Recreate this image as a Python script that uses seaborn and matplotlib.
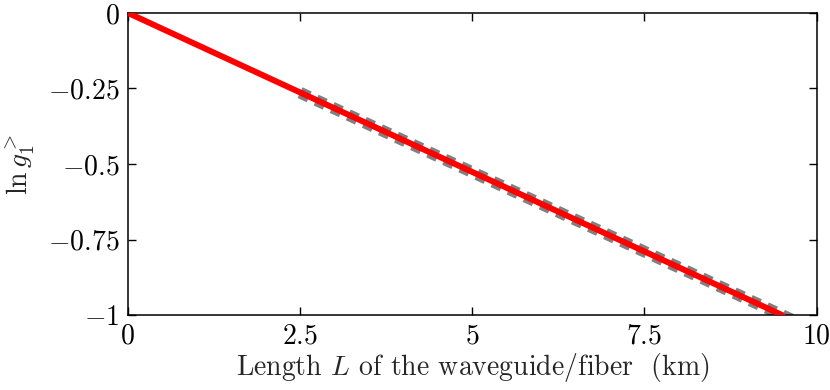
import numpy as np
import pandas as pd
import matplotlib
matplotlib.use("Agg")
import matplotlib.pyplot as plt
import seaborn as sns

# red curve (model) and gray dashed fit
red_L = [0.0, 9.5]
red_lng = [0.0, -1.0]
fit_L = [2.5, 9.65]
fit_lng = [-0.264, -1.016]

x_ticks = [0, 2.5, 5, 7.5, 10]
x_labels = ["0", "2.5", "5", "7.5", "10"]
y_ticks = [0, -0.25, -0.5, -0.75, -1]
y_labels = ["0", "-0.25", "-0.5", "-0.75", "-1"]

sns.set_style("ticks")
plt.rcParams["mathtext.fontset"] = "cm"
plt.rcParams["font.family"] = ["cmr10", "DejaVu Serif"]
plt.rcParams["axes.formatter.use_mathtext"] = True

fig = plt.figure(figsize=(8.3, 3.9), dpi=100)
ax = fig.add_axes([0.154, 0.192, 0.830, 0.775])

fit_df = pd.DataFrame({"L": fit_L, "lng": fit_lng})
red_df = pd.DataFrame({"L": red_L, "lng": red_lng})

sns.lineplot(data=fit_df, x="L", y="lng", ax=ax, color="#808080",
             linewidth=8.5, zorder=2)
ax.lines[-1].set_dashes([0.85, 0.65])
sns.lineplot(data=red_df, x="L", y="lng", ax=ax, color="red",
             linewidth=4.3, zorder=3)

ax.set_xlim(0, 10)
ax.set_ylim(-1, 0)
ax.set_xticks(x_ticks)
ax.set_xticklabels(["$" + s + "$" for s in x_labels])
ax.set_yticks(y_ticks)
ax.set_yticklabels(["$" + s + "$" for s in y_labels])

ax.tick_params(direction="in", top=True, right=True, length=6, width=1,
               labelsize=20, pad=6, colors="black")
for sp in ax.spines.values():
    sp.set_linewidth(1.1)
    sp.set_color("black")

ax.set_xlabel("Length $L$ of the waveguide/fiber  (km)", fontsize=20, labelpad=1)
ax.set_ylabel(r"$\ln g_1^{>}$", fontsize=20, labelpad=8)

fig.savefig("out.png", dpi=100)
